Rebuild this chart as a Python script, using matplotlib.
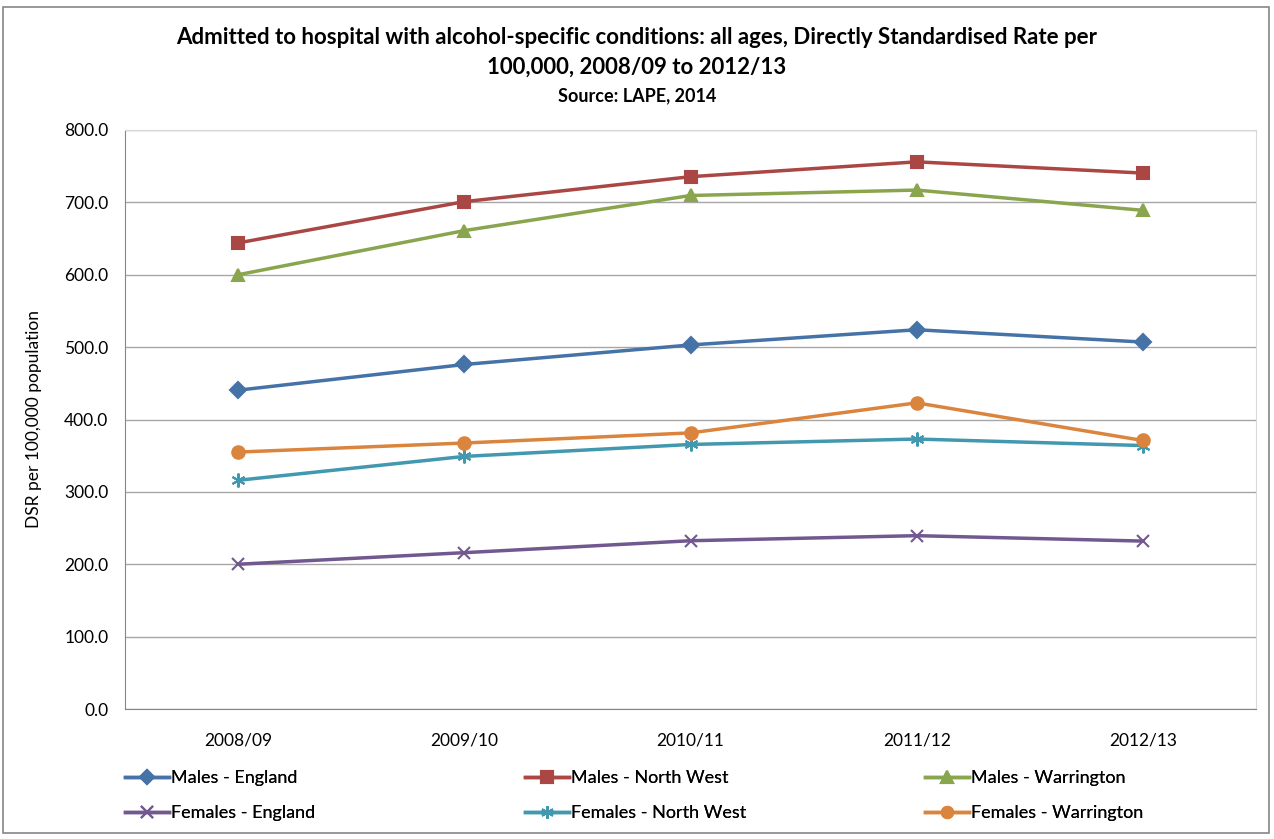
import numpy as np
import matplotlib.pyplot as plt
from matplotlib.patches import Rectangle
from matplotlib.ticker import FormatStrFormatter

plt.rcParams['font.family'] = ['Lato', 'DejaVu Sans']

years = ["2008/09", "2009/10", "2010/11", "2011/12", "2012/13"]

males_england = [440.5, 476.0, 503.0, 524.0, 507.0]
males_north_west = [644.0, 701.0, 735.5, 756.0, 740.5]
males_warrington = [600.0, 661.0, 709.5, 717.0, 689.0]
females_england = [200.0, 216.0, 232.5, 239.5, 232.0]
females_north_west = [316.0, 349.0, 365.5, 373.0, 364.0]
females_warrington = [355.0, 367.5, 381.5, 423.0, 371.0]

series = [
    ("Males - England", males_england, '#4572A7', 'D', 8),
    ("Males - North West", males_north_west, '#AA4643', 's', 9),
    ("Males - Warrington", males_warrington, '#89A54E', '^', 9),
    ("Females - England", females_england, '#71588F', 'x', 9),
    ("Females - North West", females_north_west, '#4198AF', (6, 2, 0), 10),
    ("Females - Warrington", females_warrington, '#DB843D', 'o', 9),
]

fig = plt.figure(figsize=(12.74, 8.39), dpi=100)
ax = fig.add_axes([125 / 1274, 1 - 709 / 839, 1131 / 1274, 579 / 839])

X = np.arange(len(years))
lines = {}
for name, vals, color, marker, ms in series:
    ln, = ax.plot(X, vals, color=color, lw=2.5, marker=marker, ms=ms,
                  mec=color, mfc=color, mew=1.5, label=name, zorder=3)
    lines[name] = ln

ax.set_xlim(-0.5, len(years) - 0.5)
ax.set_ylim(0, 800)
ax.set_yticks(np.arange(0, 801, 100))
ax.yaxis.set_major_formatter(FormatStrFormatter('%.1f'))
ax.set_xticks(X)
ax.set_xticklabels(years)
ax.tick_params(axis='both', labelsize=12.5, length=0, colors='black')
ax.tick_params(axis='y', pad=12)
ax.tick_params(axis='x', pad=17)
ax.grid(axis='y', color='#A6A6A6', lw=1)
ax.set_axisbelow(True)
for side in ['top', 'right']:
    ax.spines[side].set_color('#D9D9D9')
for side in ['left', 'bottom']:
    ax.spines[side].set_color('#868686')

ax.set_ylabel("DSR per 100,000 population", fontsize=12.5, labelpad=16)

fig.text(0.5, 1 - 38 / 839, "Admitted to hospital with alcohol-specific conditions: all ages, Directly Standardised Rate per",
         ha='center', va='center', fontsize=16, weight='bold')
fig.text(0.5, 1 - 67 / 839, "100,000, 2008/09 to 2012/13",
         ha='center', va='center', fontsize=16, weight='bold')
fig.text(0.5, 1 - 96 / 839, "Source: LAPE, 2014",
         ha='center', va='center', fontsize=13, weight='bold')

# one legend per column: males on the top row, females underneath
columns = [("Males - England", "Females - England"),
           ("Males - North West", "Females - North West"),
           ("Males - Warrington", "Females - Warrington")]
for i, names in enumerate(columns):
    leg = fig.legend([lines[n] for n in names], names, frameon=False,
                     loc='upper left',
                     bbox_to_anchor=((118 + 400 * i) / 1274, 1 - 763 / 839),
                     fontsize=13, handlelength=2.4, labelspacing=1.05,
                     handletextpad=0.15, borderaxespad=0, markerscale=0.9)
    fig.add_artist(leg)

fig.patches.append(Rectangle((3 / 1274, 6 / 839), 1266 / 1274, 826 / 839,
                             transform=fig.transFigure, fill=False,
                             edgecolor='#868686', lw=1.2))

fig.savefig("out.png", dpi=100)
